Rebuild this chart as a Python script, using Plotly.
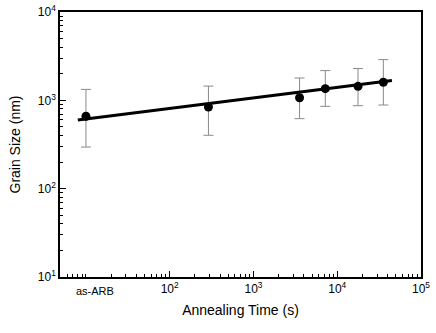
import plotly.graph_objects as go
import numpy as np

# Data
time_s = [10, 290, 3550, 7200, 17700, 35500]
grain_nm = [660, 840, 1070, 1356, 1440, 1600]
err_hi = [1330, 1450, 1790, 2170, 2290, 2890]
err_lo = [296, 402, 620, 855, 870, 885]

fit_x = [8.0, 45000]
fit_y = [600, 1680]

x_tickvals = [100, 1000, 10000, 100000]
x_ticktext = ["10<sup>2</sup>", "10<sup>3</sup>", "10<sup>4</sup>", "10<sup>5</sup>"]
y_tickvals = [10, 100, 1000, 10000]
y_ticktext = ["10<sup>1</sup>", "10<sup>2</sup>", "10<sup>3</sup>", "10<sup>4</sup>"]

plus = [h - g for h, g in zip(err_hi, grain_nm)]
minus = [g - l for g, l in zip(grain_nm, err_lo)]

XR = [np.log10(4.9), 5]
YR = [1, 4]

fig = go.Figure()
fig.add_trace(go.Scatter(
    x=time_s, y=grain_nm, mode="markers",
    marker=dict(color="black", size=9),
    error_y=dict(type="data", symmetric=False, array=plus, arrayminus=minus,
                 color="#8a8a8a", thickness=1, width=5),
    showlegend=False,
))
fig.add_trace(go.Scatter(
    x=fit_x, y=fit_y, mode="lines",
    line=dict(color="black", width=3), showlegend=False,
))

font = "Liberation Sans, Arial, sans-serif"
axis_common = dict(
    type="log", showgrid=False, zeroline=False, automargin=False,
    showline=True, linecolor="black", linewidth=1.5, mirror=True,
    ticks="inside", ticklen=6, tickcolor="black", ticklabeloverflow="allow",
    tickfont=dict(family=font, size=12, color="black"),
    minor=dict(ticks="inside", ticklen=3, tickcolor="black", dtick="D1", showgrid=False),
)

fig.update_layout(
    width=436, height=333,
    margin=dict(l=60, r=15, t=12, b=56),
    paper_bgcolor="white", plot_bgcolor="white",
    xaxis=dict(range=XR, tickvals=x_tickvals, ticktext=x_ticktext,
               title=dict(text="Annealing Time (s)", font=dict(family=font, size=14, color="black"),
                          standoff=10),
               **axis_common),
    yaxis=dict(range=YR, tickvals=y_tickvals, ticktext=y_ticktext,
               title=dict(text="Grain Size (nm)", font=dict(family=font, size=14, color="black"),
                          standoff=14),
               **axis_common),
    annotations=[dict(x=np.log10(12.7), y=0, xref="x", yref="paper", yanchor="top",
                      yshift=-6, text="as-ARB", showarrow=False,
                      font=dict(family=font, size=11, color="black"))],
)

fig.write_html("out.html", config={"displayModeBar": False},
               post_script="document.body.style.margin='0px';")
